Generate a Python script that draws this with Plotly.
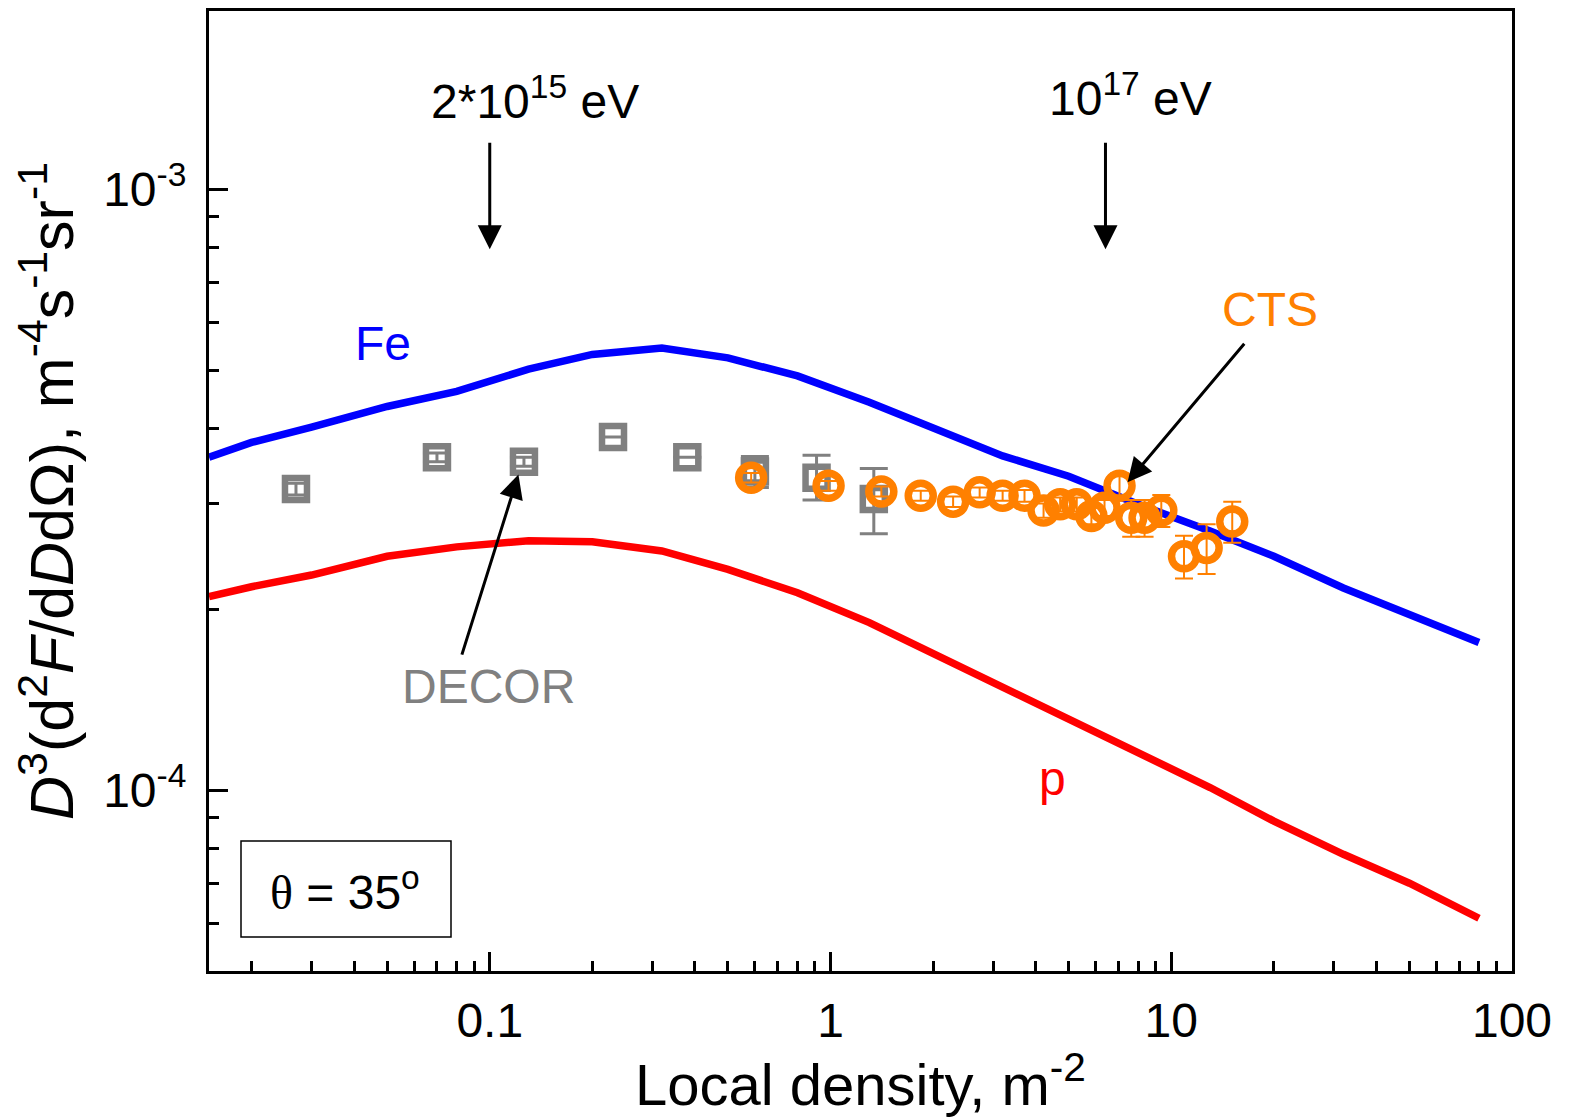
import math
import plotly.graph_objects as go

# ---------------- data ----------------
model_x = [0.015, 0.02, 0.03, 0.05, 0.08, 0.13, 0.2, 0.32, 0.5, 0.8, 1.3, 2, 3.2, 5, 8, 13, 20, 32, 50, 80]
fe_y = [3.58e-4, 3.79e-4, 4.02e-4, 4.35e-4, 4.61e-4, 5.02e-4, 5.31e-4, 5.44e-4, 5.24e-4, 4.89e-4,
        4.42e-4, 4.00e-4, 3.60e-4, 3.33e-4, 2.99e-4, 2.70e-4, 2.45e-4, 2.17e-4, 1.96e-4, 1.76e-4]
p_y = [2.10e-4, 2.18e-4, 2.28e-4, 2.45e-4, 2.54e-4, 2.60e-4, 2.59e-4, 2.50e-4, 2.33e-4, 2.13e-4,
       1.90e-4, 1.69e-4, 1.48e-4, 1.31e-4, 1.16e-4, 1.01e-4, 8.88e-5, 7.82e-5, 7.00e-5, 6.12e-5]

decor_x = [0.027, 0.070, 0.126, 0.23, 0.38, 0.60, 0.91, 1.34]
decor_y = [3.17e-4, 3.58e-4, 3.52e-4, 3.87e-4, 3.58e-4, 3.39e-4, 3.31e-4, 3.05e-4]
decor_err_plus = [0.07e-4, 0.06e-4, 0.06e-4, 0.0, 0.0, 0.20e-4, 0.30e-4, 0.38e-4]
decor_err_minus = [0.07e-4, 0.06e-4, 0.06e-4, 0.0, 0.0, 0.20e-4, 0.27e-4, 0.38e-4]

cts_x = [0.585, 0.987, 1.41, 1.84, 2.29, 2.74, 3.20, 3.71, 4.22, 4.72,
         5.28, 5.83, 6.37, 7.05, 7.63, 8.35, 9.35, 10.9, 12.7, 15.1]
cts_y = [3.31e-4, 3.21e-4, 3.14e-4, 3.09e-4, 3.02e-4, 3.13e-4, 3.09e-4, 3.09e-4, 2.92e-4, 2.99e-4,
         2.99e-4, 2.86e-4, 2.95e-4, 3.21e-4, 2.84e-4, 2.84e-4, 2.92e-4, 2.45e-4, 2.53e-4, 2.80e-4]
cts_err = [0.06e-4, 0.06e-4, 0.06e-4, 0.06e-4, 0.06e-4, 0.06e-4, 0.06e-4, 0.07e-4, 0.08e-4, 0.08e-4,
           0.08e-4, 0.09e-4, 0.09e-4, 0.16e-4, 0.20e-4, 0.20e-4, 0.18e-4, 0.20e-4, 0.24e-4, 0.22e-4]

x_major = [0.1, 1, 10, 100]
x_major_text = ["0.1", "1", "10", "100"]
x_minor = [0.02, 0.03, 0.04, 0.05, 0.06, 0.07, 0.08, 0.09,
           0.2, 0.3, 0.4, 0.5, 0.6, 0.7, 0.8, 0.9,
           2, 3, 4, 5, 6, 7, 8, 9,
           20, 30, 40, 50, 60, 70, 80, 90]
y_major = [1e-4, 1e-3]
y_major_text = ["10<sup>-4</sup>", "10<sup>-3</sup>"]
y_minor = [6e-5, 7e-5, 8e-5, 9e-5, 2e-4, 3e-4, 4e-4, 5e-4, 6e-4, 7e-4, 8e-4, 9e-4]

x_range = [0.015, 100]
y_range = [5e-5, 1.98e-3]

# ---------------- styles ----------------
FONT = "Arial, 'Liberation Sans', sans-serif"
BLUE = "#0000FF"
RED = "#FF0000"
GRAY = "#808080"
ORANGE = "#FF8000"

fig = go.Figure()
fig.add_trace(go.Scatter(x=model_x, y=fe_y, mode="lines", line=dict(color=BLUE, width=7.5),
                         name="Fe", showlegend=False))
fig.add_trace(go.Scatter(x=model_x, y=p_y, mode="lines", line=dict(color=RED, width=7.5),
                         name="p", showlegend=False))
fig.add_trace(go.Scatter(
    x=decor_x, y=decor_y, mode="markers", name="DECOR", showlegend=False,
    marker=dict(symbol="square-open", size=22, color=GRAY, line=dict(color=GRAY, width=6.5)),
    error_y=dict(type="data", symmetric=False, array=decor_err_plus, arrayminus=decor_err_minus,
                 color=GRAY, thickness=3, width=14)))
fig.add_trace(go.Scatter(
    x=cts_x, y=cts_y, mode="markers", name="CTS", showlegend=False,
    marker=dict(symbol="circle-open", size=25, color=ORANGE, line=dict(color=ORANGE, width=7.5)),
    error_y=dict(type="data", array=cts_err, color=ORANGE, thickness=2, width=9)))

lg = math.log10
axis_common = dict(
    type="log", showgrid=False, zeroline=False,
    showline=True, linecolor="black", linewidth=3, mirror=True,
    ticks="inside", ticklen=19, tickwidth=3, tickcolor="black",
    tickfont=dict(family=FONT, size=48, color="black"),
)
fig.update_xaxes(
    **axis_common,
    range=[lg(x_range[0]), lg(x_range[1])],
    tickmode="array", tickvals=x_major, ticktext=x_major_text,
    minor=dict(tickmode="array", tickvals=x_minor, ticks="inside", ticklen=10, tickwidth=3,
               tickcolor="black", showgrid=False),
    ticklabelstandoff=5,
    title=dict(text="Local density, m<sup>-2</sup>", font=dict(family=FONT, size=58, color="black"),
               standoff=6),
)
fig.update_yaxes(
    **axis_common,
    range=[lg(y_range[0]), lg(y_range[1])],
    tickmode="array", tickvals=y_major, ticktext=y_major_text,
    minor=dict(tickmode="array", tickvals=y_minor, ticks="inside", ticklen=10, tickwidth=3,
               tickcolor="black", showgrid=False),
    ticklabelstandoff=10,
    title=dict(text="<i>D</i><sup>3</sup>(d<sup>2</sup><i>F</i>/d<i>D</i>dΩ), m<sup>-4</sup>s<sup>-1</sup>sr<sup>-1</sup>",
               font=dict(family=FONT, size=61, color="black"), standoff=14),
)

# page is rendered with an 8px body margin, so the figure is shifted by 8px
OFF = 8
W, H = 1561, 1109
PL, PR, PT, PB = 209, 1512, 11, 971   # plot area in page pixels
L, R, T, B = PL - OFF, W - (PR - OFF), PT - OFF, H - (PB - OFF)


def px(xp):
    return (xp - PL) / (PR - PL)


def py(yp):
    return (PB - yp) / (PB - PT)


def text_ann(text, xp, yp, color, size=48):
    return dict(text=text, x=px(xp), y=py(yp), xref="paper", yref="paper",
                showarrow=False, xanchor="center", yanchor="middle",
                font=dict(family=FONT, size=size, color=color))


def arrow_ann(tip, tail):
    return dict(x=tip[0], y=tip[1], ax=tail[0], ay=tail[1], xref="x", yref="y",
                axref="x", ayref="y", text="", showarrow=True, arrowhead=2,
                arrowsize=1.6, arrowwidth=3, arrowcolor="black", standoff=0)


annotations = [
    text_ann("2*10<sup>15</sup> eV", 535, 98, "black"),
    text_ann("10<sup>17</sup> eV", 1130, 95, "black"),
    text_ann("Fe", 383, 343, BLUE),
    text_ann("CTS", 1270, 309, ORANGE),
    text_ann("DECOR", 488, 686, GRAY),
    text_ann("p", 1052, 778, RED),
    text_ann("<span style='font-family:\"Liberation Serif\", \"Times New Roman\", serif'>θ</span> = 35<sup>o</sup>",
             345, 889, "black"),
    arrow_ann((lg(0.1), -3.0998), (lg(0.1), -2.920)),
    arrow_ann((0.807, -3.0998), (0.807, -2.920)),
    arrow_ann((-0.9158, -3.4747), (-1.0831, -3.777)),
    arrow_ann((0.8717, -3.4875), (1.218, -3.2546)),
]

shapes = [dict(type="rect", xref="paper", yref="paper",
               x0=px(241), x1=px(451), y0=py(937), y1=py(841),
               line=dict(color="black", width=1.5), fillcolor="rgba(0,0,0,0)")]

fig.update_layout(
    width=W, height=H,
    margin=dict(l=L, r=R, t=T, b=B, pad=0, autoexpand=False),
    paper_bgcolor="white", plot_bgcolor="white",
    font=dict(family=FONT, color="black"),
    annotations=annotations, shapes=shapes,
    showlegend=False,
)

fig.write_html("out.html")
